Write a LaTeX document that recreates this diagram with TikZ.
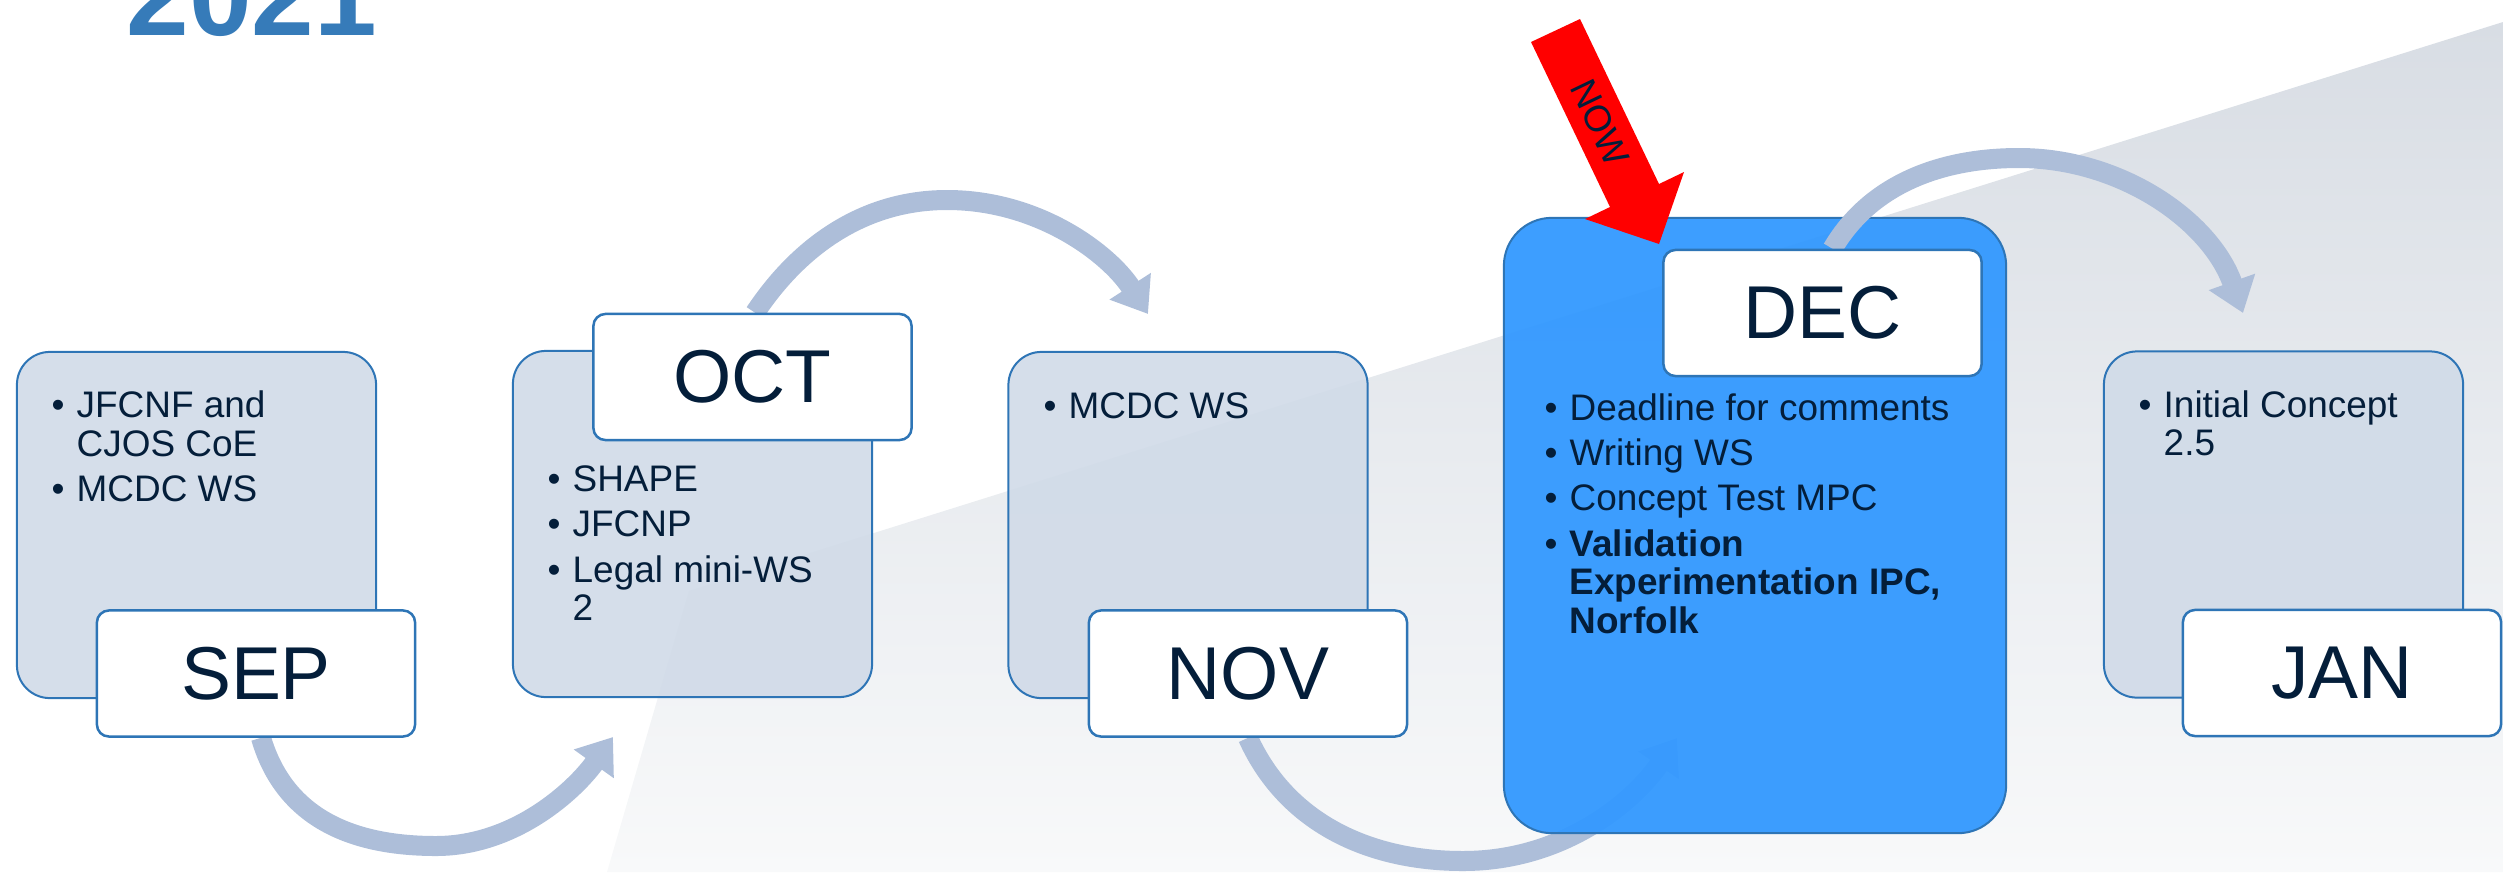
\documentclass[tikz,border=0pt]{standalone}
\usepackage{fontspec}
\setmainfont{Liberation Sans}
\usetikzlibrary{arrows.meta}
\definecolor{boxfill}{RGB}{209,219,232}
\definecolor{boxline}{RGB}{46,117,182}
\definecolor{txt}{RGB}{4,30,58}
\definecolor{arrowc}{RGB}{173,190,217}
\definecolor{decfill}{RGB}{51,153,255}
\definecolor{titlec}{RGB}{54,123,185}
\definecolor{bgtop}{RGB}{216,221,228}
\definecolor{bgbot}{RGB}{248,249,250}
\pgfdeclarelayer{back}\pgfdeclarelayer{arr}\pgfdeclarelayer{front}
\pgfsetlayers{back,arr,main,front}
\newcommand{\mybul}{\makebox[0.25cm][l]{•}}
\newcommand{\myind}{\hspace*{0.25cm}}
\begin{document}
\begin{tikzpicture}[x=0.01cm,y=-0.01cm,
  bigbox/.style={draw=boxline, line width=0.02cm, fill=boxfill, fill opacity=0.92, rounded corners=0.33cm, minimum width=3.59cm, minimum height=3.46cm, inner sep=0pt},
  labelbox/.style={draw=boxline, line width=0.025cm, fill=white, rounded corners=0.12cm, minimum width=3.18cm, minimum height=1.26cm, inner sep=0pt, text=txt, font=\fontsize{21.3}{24}\selectfont},
  bullets/.style={anchor=base west, inner sep=0pt, align=left, text=txt, font=\fontsize{10.5}{10.95}\selectfont},
  flow/.style={draw=arrowc, line width=0.2cm, line cap=butt, -{Triangle[length=0.33cm,width=0.47cm]}},
]
\useasboundingbox (0,0) rectangle (2503,872);

% background wedge
\begin{pgfonlayer}{back}
\shade[top color=bgtop, bottom color=bgbot] (607,872) -- (689,591) -- (2503,22) -- (2503,872) -- cycle;
\end{pgfonlayer}

% title
\node[anchor=base west, inner sep=0pt, text=titlec, font=\fontsize{32}{36}\selectfont\bfseries] (title) at (126,35) {2021};

% big boxes
\node[bigbox] (sepB) at (196.5,525) {};
\node[bigbox] (octB) at (692.5,524) {};
\node[bigbox] (novB) at (1188,525) {};
\node[bigbox] (janB) at (2283.5,524.5) {};
\node[bigbox, fill=decfill, fill opacity=0.95, rounded corners=0.48cm, minimum width=5.02cm, minimum height=6.15cm] (decB) at (1755,525.5) {};

% label boxes
\begin{pgfonlayer}{front}
\node[labelbox] (sepL) at (256,673.5) {SEP};
\node[labelbox] (octL) at (752.5,377) {OCT};
\node[labelbox] (novL) at (1248,673.5) {NOV};
\node[labelbox] (decL) at (1822.5,313) {DEC};
\node[labelbox] (janL) at (2342,673) {JAN};
\end{pgfonlayer}

% bullet texts (base anchor = baseline of the last line)
\node[bullets] (sepT) at (51,501.5) {\mybul JFCNF and\\\myind CJOS CoE\\[0.065cm]\mybul MCDC WS};
\node[bullets] (octT) at (547,620.5) {\mybul SHAPE\\[0.065cm]\mybul JFCNP\\[0.065cm]\mybul Legal mini-WS\\\myind 2};
\node[bullets] (novT) at (1043,418) {\mybul MCDC WS};
\node[bullets] (decT) at (1544,633) {\mybul Deadline for comments\\[0.065cm]\mybul Writing WS\\[0.065cm]\mybul Concept Test MPC\\[0.065cm]\mybul\textbf{Validation}\\\myind\textbf{Experimentation IPC,}\\\myind\textbf{Norfolk}};
\node[bullets] (janT) at (2138,455.5) {\mybul Initial Concept\\\myind 2.5};

% flow arrows
\coordinate (a1e) at (613,737);
\coordinate (a2e) at (1148,314);
\coordinate (a3e) at (1677,738);
\coordinate (a4e) at (2243,313);
\begin{pgfonlayer}{arr}
\draw[flow] ([xshift=0.05cm]sepL.south) .. controls (285,820) and (355,846) .. (436,846) .. controls (515,846) and (575,790) .. (a1e);
\draw[flow] ([xshift=0.025cm]octL.north) .. controls (800,245) and (865,200) .. (947,200) .. controls (1040,200) and (1110,255) .. (a2e);
\draw[flow] (novL.south) .. controls (1285,820) and (1365,861) .. (1463,861) .. controls (1565,861) and (1635,800) .. (a3e);
\end{pgfonlayer}
\draw[flow] ([xshift=0.1cm]decL.north) .. controls (1868,188) and (1935,158) .. (2019,158) .. controls (2120,158) and (2210,220) .. (a4e);

% NOW arrow
\begin{pgfonlayer}{front}
\fill[red] (1531,42) -- (1580,19) -- (1659,184) -- (1684,172) -- (1659,244) -- (1585,219) -- (1610,207) -- cycle;
\node[rotate=-64.4, inner sep=0pt, text=txt, font=\fontsize{10.5}{12}\selectfont] (nowT) at (1600,123) {NOW};
\end{pgfonlayer}
\end{tikzpicture}
\end{document}
